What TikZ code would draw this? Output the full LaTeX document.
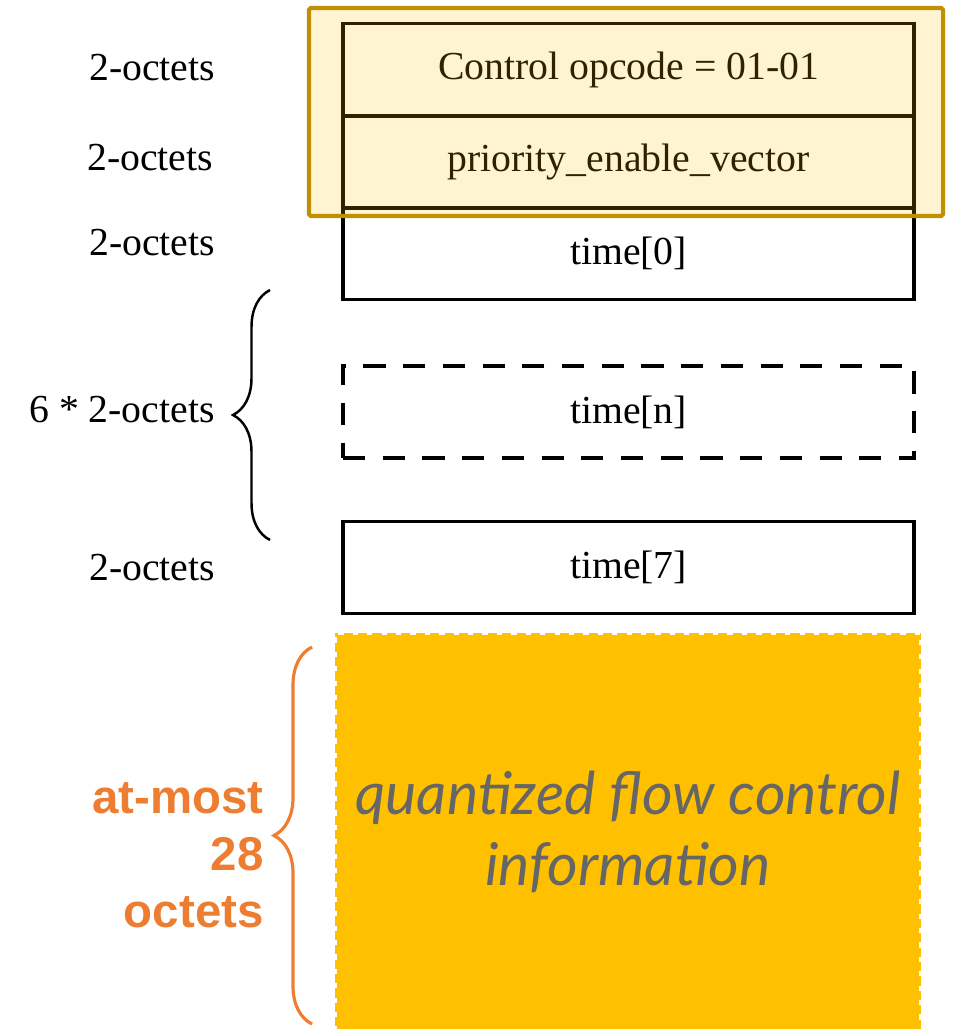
\documentclass[tikz,border=0pt]{standalone}
\usepackage{fontspec}
\setmainfont{Liberation Serif}
\newfontfamily\labelfont{Liberation Sans}
\newfontfamily\notefont{Lato}
\usetikzlibrary{decorations.pathreplacing}
\definecolor{frameGold}{HTML}{BF9000}
\definecolor{fillYellow}{HTML}{FFC000}
\definecolor{braceOrange}{HTML}{ED7D31}
\definecolor{noteGray}{HTML}{666666}

\tikzset{
  field/.style={draw, line width=0.9pt, minimum width=5.71cm, minimum height=0.92cm,
    inner sep=0pt, font=\fontsize{11.3}{13}\selectfont},
  sizelabel/.style={font=\fontsize{11.3}{13}\selectfont},
}

\begin{document}
\begin{tikzpicture}
    \useasboundingbox (0,0) rectangle (9.53,-10.29);

    \node[field] (opcode) at (6.285,-0.695) {Control opcode = 01-01};
    \node[field] (prio) at (6.285,-1.62) {priority\_enable\_vector};
    \node[field] (time0) at (6.285,-2.535) {time[0]};
    \node[field, dash pattern=on 6.3pt off 5pt] (timen) at (6.285,-4.12) {time[n]};
    \node[field] (time7) at (6.285,-5.675) {time[7]};

    \fill[fillYellow, opacity=0.18] (3.09,-0.08) rectangle (9.43,-2.16);
    \draw[frameGold, line width=1.15pt, rounded corners=0.5pt] (3.09,-0.08) rectangle (9.43,-2.16);

    \node[sizelabel] (len1) at (1.52,-0.68) {2-octets};
    \node[sizelabel] (len2) at (1.50,-1.58) {2-octets};
    \node[sizelabel] (len3) at (1.52,-2.43) {2-octets};
    \node[sizelabel, anchor=east] (lenn) at (2.27,-4.10) {6 * 2-octets};
    \node[sizelabel] (len7) at (1.52,-5.68) {2-octets};

    \draw[line width=0.7pt, decorate, decoration={brace, amplitude=0.37cm}]
        (2.70,-5.40) -- (2.70,-2.90);

    \node[fill=fillYellow, minimum width=5.86cm, minimum height=3.98cm, inner sep=0pt,
          text=noteGray, align=center, font=\notefont\itshape\fontsize{16.8}{20}\selectfont]
        (qfc) at (6.28,-8.32) {quantized flow control\\information};
    \draw[white, line width=1.5pt, dash pattern=on 1.5pt off 2.6pt]
        (qfc.south west) -- (qfc.north west) -- (qfc.north east) -- (qfc.south east);

    \draw[braceOrange, line width=0.9pt, decorate, decoration={brace, amplitude=0.38cm}]
        (3.12,-10.24) -- (3.12,-6.47);
    \node[anchor=east, align=right, text=braceOrange,
          font=\labelfont\bfseries\fontsize{13.5}{16.2}\selectfont]
        (limit) at (2.76,-8.55) {at-most\\28\\octets};
\end{tikzpicture}
\end{document}
